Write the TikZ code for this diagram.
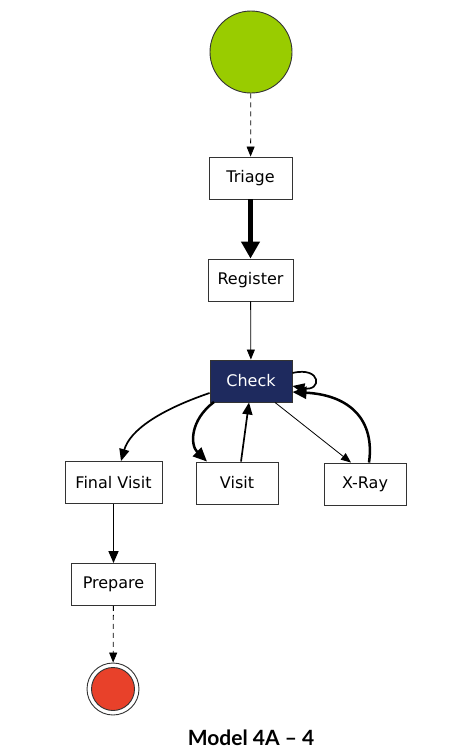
\documentclass[tikz,border=0pt]{standalone}
\usepackage{fontspec}
\setmainfont{DejaVu Sans}
\newfontfamily\capfont{Lato}
\usetikzlibrary{arrows.meta}
\definecolor{startgreen}{HTML}{99CC00}
\definecolor{endred}{HTML}{E8412A}
\definecolor{checkblue}{HTML}{1E2A5E}
\begin{document}
\begin{tikzpicture}[x=1pt,y=-1pt,
  act/.style={draw=black!80,line width=0.9pt,fill=white,minimum height=42pt,inner sep=0pt,font=\fontsize{16}{19}\selectfont},
  thin1/.style={line width=0.8pt,-{Triangle[length=10pt,width=8pt]}},
  med/.style={line width=1.7pt,-{Triangle[length=12pt,width=10pt]}},
  thick2/.style={line width=2.5pt,-{Triangle[length=14pt,width=12pt]}},
  heavy/.style={line width=5pt,-{Triangle[length=17pt,width=18pt]}},
  dsh/.style={line width=0.8pt,dash pattern=on 5pt off 4pt,-{Triangle[length=10pt,width=8pt]}}]
\useasboundingbox (0,0) rectangle (475,756);
\node[circle,draw=black!80,line width=0.9pt,fill=startgreen,minimum size=82pt,inner sep=0pt] (start) at (251,52) {};
\node[act,minimum width=83pt] (triage) at (250.5,178) {Triage};
\node[act,minimum width=85pt] (register) at (250.5,280) {Register};
\node[act,minimum width=82pt,fill=checkblue,text=white] (check) at (251,381) {Check};
\node[act,minimum width=97pt] (final) at (113.5,482.5) {Final Visit};
\node[act,minimum width=82pt] (visit) at (237,483) {Visit};
\node[act,minimum width=82pt] (xray) at (365,484) {X-Ray};
\node[act,minimum width=84pt] (prepare) at (113.5,584.5) {Prepare};
\node[circle,draw=black!80,line width=0.9pt,minimum size=52pt,inner sep=0pt] (endo) at (113,689) {};
\node[circle,draw=black!80,line width=0.9pt,fill=endred,minimum size=43pt,inner sep=0pt] (end) at (113,689) {};
\node[font=\capfont\bfseries\fontsize{21}{25}\selectfont] (cap) at (251,738) {Model 4A – 4};

\draw[dsh] (start) -- (triage);
\draw[heavy] (triage) -- (register);
\draw[thin1] (register) -- (check);
\draw[med] (check.west|-0,393) .. controls (160,410) and (130,430) .. (final.north-|121,0);
\draw[thick2] (214,402) .. controls (190,420) and (190,445) .. (visit.north-|207,0);
\draw[med] (visit.north-|241,0) -- (check.south-|249,0);
\draw[thin1] (check.south-|275,0) -- (xray.north-|351,0);
\draw[thick2] (xray.north-|369,0) .. controls (375,420) and (350,395) .. (check.east|-0,392);
\draw[med] (check.east|-0,373) .. controls (322,366) and (322,392) .. (check.east|-0,386);
\draw[med] (final) -- (prepare);
\draw[dsh] (prepare) -- (endo);
\end{tikzpicture}
\end{document}
